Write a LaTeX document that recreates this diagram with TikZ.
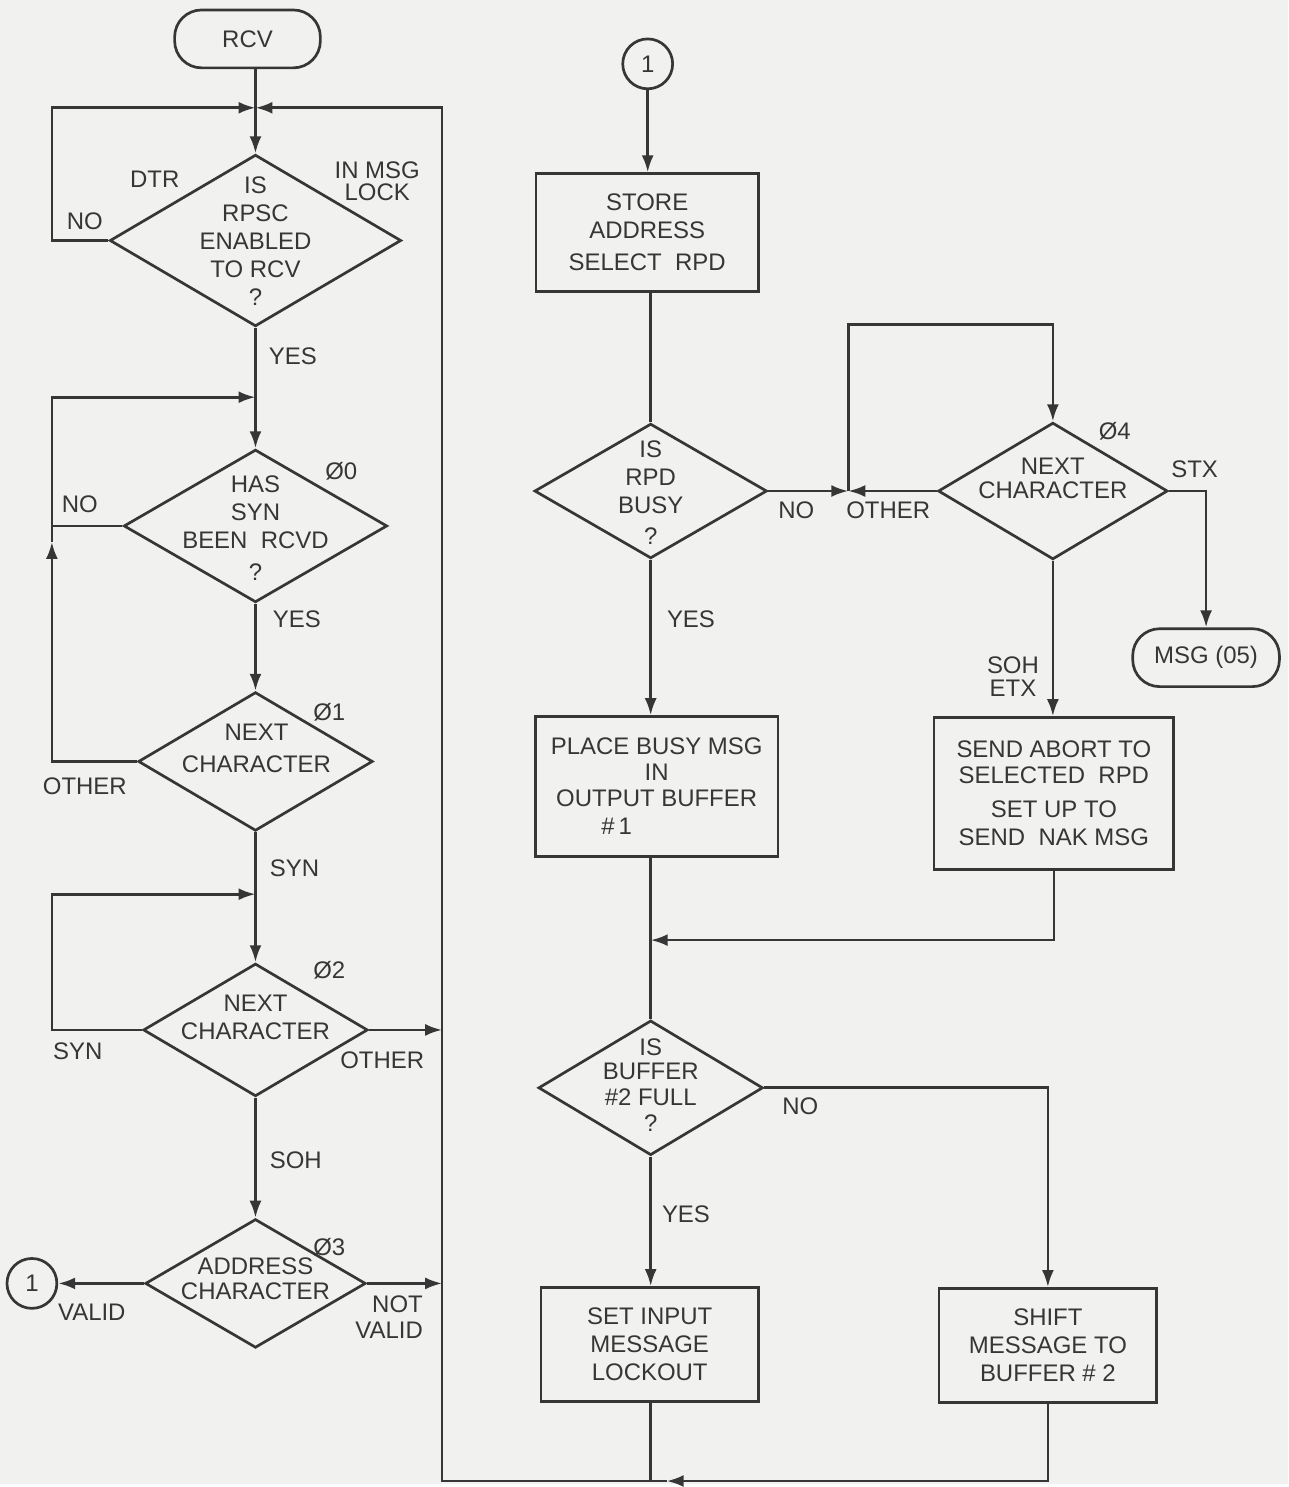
\documentclass[tikz,border=0pt]{standalone}
\usepackage{fontspec}
\setmainfont{Liberation Sans}
\usetikzlibrary{shapes.geometric,arrows.meta}
\definecolor{bg}{HTML}{F1F1EF}
\definecolor{ink}{HTML}{363636}
\begin{document}
\begin{tikzpicture}[x=1pt,y=-1pt,line width=2.7pt,draw=ink,text=ink,
  font=\fontsize{24}{28}\selectfont,
  arr/.style={-{Latex[length=17pt,width=12pt]}},
  dia/.style 2 args={diamond,draw,inner sep=0pt,minimum width=#1,minimum height=#2},
  txt/.style={align=center,inner sep=0pt},
  lbl/.style={inner sep=0pt},
  box/.style={rectangle,draw,align=center,inner sep=0pt},
  term/.style={rectangle,rounded corners=27pt,draw,inner sep=0pt,minimum width=146pt,minimum height=58pt},
  circ/.style={circle,draw,inner sep=0pt,minimum size=50pt}]
\path[fill=bg] (0,0) rectangle (1291,1487);

% ---------- left column ----------
\node[term] (rcv) at (248,39) {RCV};
\node[dia={292pt}{172pt}] (d1) at (256,241) {};
\node[txt] (t1) at (256,242) {IS\\RPSC\\ENABLED\\TO RCV\\?};
\node[dia={264pt}{153pt}] (d2) at (256,527) {};
\node[txt] (t2) at (256,529) {HAS\\SYN\\BEEN\ \ RCVD\\[4pt]?};
\node[dia={235pt}{139pt}] (d3) at (256,763) {};
\node[txt] (t3) at (257,750) {NEXT\\[4pt]CHARACTER};
\node[dia={225pt}{133pt}] (d4) at (256,1032) {};
\node[txt] (t4) at (256,1019) {NEXT\\CHARACTER};
\node[dia={221pt}{129pt}] (d5) at (256,1286) {};
\node[txt] (t5) at (256,1281) {ADDRESS\\[-3pt]CHARACTER};
\node[circ] (c1a) at (32,1286) {1};

\coordinate (j0) at (256,108);
\coordinate (l0) at (52,108);
\coordinate (r0) at (443,108);
\coordinate (j1) at (256,398);
\coordinate (l1) at (52,398);
\coordinate (up) at (52,543);
\coordinate (j2) at (256,896);
\coordinate (l2) at (52,896);
\coordinate (rb) at (443,1484);

\draw[arr] (rcv.south -| d1.north) -- (d1.north);
\draw[arr] (d1.west) -| (l0) -- (j0);
\draw (d1.south) -- (j1);
\draw[arr] (j1) -- (d2.north);
\draw[arr] (d2.west) -| (l1) -- (j1);
\draw[arr] (d3.west) -| (up);
\draw (up) -- (d2.west -| up);
\draw[arr] (d2.south) -- (d3.north);
\draw (d3.south) -- (j2);
\draw[arr] (j2) -- (d4.north);
\draw[arr] (d4.west) -| (l2) -- (j2);
\draw[arr] (d4.east) -- (d4.east -| rb);
\draw[arr] (d4.south) -- (d5.north);
\draw[arr] (d5.west) -- (c1a.east);
\draw[arr] (d5.east) -- (d5.east -| rb);

\node[lbl] (nNo1) at (85,222) {NO};
\node[lbl] (nDtr) at (155,180) {DTR};
\node[lbl] (nInMsg) at (378,171) {IN MSG};
\node[lbl] (nLock) at (378,193) {LOCK};
\node[lbl,anchor=west] (nYes1) at (268,357) {YES};
\node[lbl] (nNo2) at (80,505) {NO};
\node[lbl] (nP0) at (342,472) {Ø0};
\node[lbl,anchor=west] (nYes2) at (272,620) {YES};
\node[lbl] (nP1) at (330,714) {Ø1};
\node[lbl] (nOth1) at (85,788) {OTHER};
\node[lbl,anchor=west] (nSyn1) at (269,870) {SYN};
\node[lbl] (nP2) at (330,972) {Ø2};
\node[lbl] (nSyn2) at (78,1053) {SYN};
\node[lbl] (nOth2) at (383,1062) {OTHER};
\node[lbl,anchor=west] (nSoh1) at (269,1163) {SOH};
\node[lbl] (nP3) at (330,1250) {Ø3};
\node[lbl] (nVal) at (92,1315) {VALID};
\node[lbl,align=right,anchor=east,font=\fontsize{24}{26}\selectfont] (nNotVal) at (425,1320) {NOT\\VALID};

% ---------- right column ----------
\node[circ] (c1b) at (649,64) {1};
\node[box,minimum width=223pt,minimum height=118pt] (store) at (648.5,233) {STORE\\ADDRESS\\[4pt]SELECT\ \ RPD};
\node[dia={233pt}{135pt}] (d6) at (652,492) {};
\node[txt] (t6) at (652,494) {IS\\RPD\\BUSY\\[3pt]?};
\node[dia={230pt}{137pt}] (d7) at (1055,492) {};
\node[txt] (t7) at (1055,479) {NEXT\\[-4pt]CHARACTER};
\node[term,minimum width=147pt] (msg) at (1208.5,659) {MSG (05)};
\node[box,minimum width=243pt,minimum height=140pt] (place) at (658,788) {PLACE BUSY MSG\\[-2pt]IN\\[-2pt]OUTPUT BUFFER\\\#\,1\hspace*{80pt}};
\node[box,minimum width=240pt,minimum height=152pt] (abort) at (1056,795) {SEND ABORT TO\\[-2pt]SELECTED\ \ RPD\\[6pt]SET UP TO\\SEND\ \ NAK MSG};
\node[dia={225pt}{135pt}] (d8) at (652,1090) {};
\node[txt] (t8) at (652,1087) {IS\\[-4pt]BUFFER\\[-2pt]\#2 FULL\\[-2pt]?};
\node[box,minimum width=218pt,minimum height=114pt] (setin) at (651,1347) {SET INPUT\\MESSAGE\\LOCKOUT};
\node[box,minimum width=218pt,minimum height=114pt] (shift) at (1050,1348) {SHIFT\\MESSAGE TO\\BUFFER \# 2};

\coordinate (jx) at (850,492);
\coordinate (tx) at (850,325);
\coordinate (jm) at (652,942);
\coordinate (jb) at (652,1484);
\coordinate (ba) at (668,1484);
\coordinate (sb) at (1050,1484);

\draw[arr] (c1b.south) -- (c1b.south |- store.north);
\draw (store.south -| d6.north) -- (d6.north);
\draw[arr] (d6.east) -- (jx);
\draw[arr] (d7.west) -- (jx);
\draw[arr] (jx) -- (tx) -| (d7.north);
\draw[arr] (d7.east) -| (msg.north);
\draw[arr] (d7.south) -- (d7.south |- abort.north);
\draw[arr] (d6.south) -- (d6.south |- place.north);
\draw (place.south -| d8.north) -- (d8.north);
\draw[arr] (abort.south) |- (jm);
\draw[arr] (d8.east) -| (shift.north);
\draw[arr] (d8.south) -- (d8.south |- setin.north);
\draw (setin.south -| jb) -- (jb);
\draw[arr] (shift.south) -- (sb) -- (ba);
\draw (ba) -- (jb);
\draw[arr] (jb) -- (rb) -- (r0) -- (j0);

\node[lbl] (nNo3) at (798,511) {NO};
\node[lbl] (nOth3) at (890,511) {OTHER};
\node[lbl] (nP4) at (1117,432) {Ø4};
\node[lbl] (nStx) at (1197,470) {STX};
\node[lbl] (nSoh2) at (1015,667) {SOH};
\node[lbl] (nEtx) at (1015,690) {ETX};
\node[lbl,anchor=west] (nYes3) at (667,620) {YES};
\node[lbl] (nNo4) at (802,1108) {NO};
\node[lbl,anchor=west] (nYes4) at (662,1217) {YES};
\end{tikzpicture}
\end{document}
